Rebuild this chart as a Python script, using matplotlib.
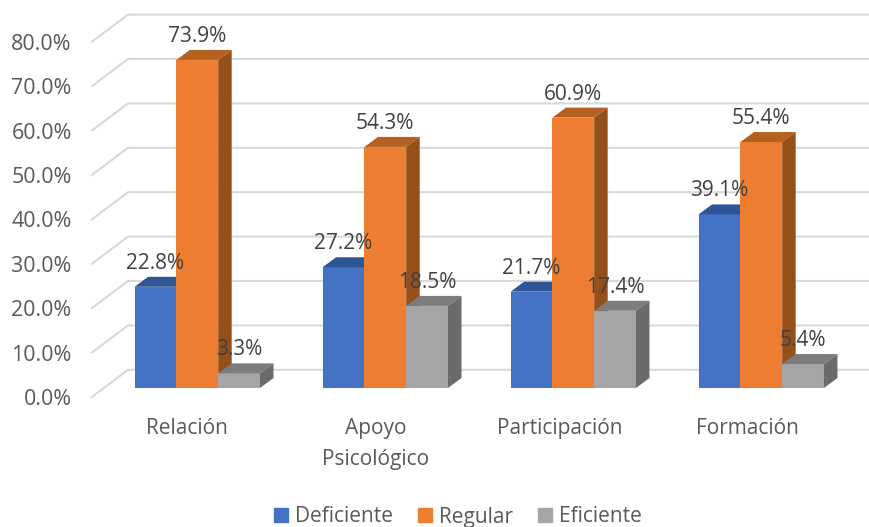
import matplotlib
matplotlib.use('Agg')
import matplotlib.pyplot as plt
from matplotlib.patches import Polygon, Patch

plt.rcParams['font.family'] = ['Open Sans', 'DejaVu Sans']

# datos
categorias = ['Relación', 'Apoyo\nPsicológico', 'Participación', 'Formación']
deficiente = [22.8, 27.2, 21.7, 39.1]
regular = [73.9, 54.3, 60.9, 55.4]
eficiente = [3.3, 18.5, 17.4, 5.4]
ticks = [0, 10, 20, 30, 40, 50, 60, 70, 80]

gris_texto = '#595959'
ancho = 0.2223
# profundidad de las barras (unidades de los ejes)
dx = 0.0718
dy = 2.25
# las etiquetas del eje no caen justo bajo el grupo
desv_cat = [-0.053, -0.053, -0.072, -0.072]

fig = plt.figure(figsize=(8.69, 5.27), dpi=100)
ax = fig.add_axes([0, 0, 1, 1])
ax.set_xlim(-1.0495, 3.573)
ax.set_ylim(-31.3, 87.39)
ax.axis('off')

# lineas de la cuadricula: diagonal de la pared y horizontal
for t in ticks:
    ax.plot([-0.5602, -0.3687, 3.6], [t - 2.0, t + 4.1, t + 4.1],
            color='#d9d9d9', lw=1.5, zorder=1, solid_joinstyle='round')
    ax.text(-0.668, t - 2.6, '%.1f%%' % t, ha='right', va='center',
            fontsize=15.4, color=gris_texto)


def barra3d(x, v, frente, arriba, lado, z):
    ax.bar(x, v, ancho, color=frente, zorder=z)
    i = x - ancho / 2
    d = x + ancho / 2
    ax.add_patch(Polygon([(i, v), (d, v), (d + dx, v + dy), (i + dx, v + dy)],
                         closed=True, fc=arriba, ec='none', zorder=z))
    ax.add_patch(Polygon([(d, 0), (d + dx, dy), (d + dx, v + dy), (d, v)],
                         closed=True, fc=lado, ec='none', zorder=z))


series = [
    (deficiente, -ancho, '#4472c4', '#2f5597', '#335593'),
    (regular, 0, '#ed7d31', '#b5601f', '#954f19'),
    (eficiente, ancho, '#a5a5a5', '#7c7c7c', '#6b6b6b'),
]

for c in range(len(categorias)):
    for n, (vals, off, frente, arriba, lado) in enumerate(series):
        barra3d(c + off, vals[c], frente, arriba, lado, 2 + c + n * 0.1)

# etiquetas de datos encima de todo
for c in range(len(categorias)):
    for vals, off, frente, arriba, lado in series:
        ax.annotate('%.1f%%' % vals[c], (c + off, vals[c]), xytext=(0, 17),
                    textcoords='offset points', ha='center', va='center',
                    fontsize=15, color='#404040', zorder=10)

for c, nombre in enumerate(categorias):
    ax.text(c + desv_cat[c], -6.75, nombre, ha='center', va='top', fontsize=15,
            color=gris_texto, linespacing=1.6)

handles = [Patch(color=s[2], label=l) for s, l in
           zip(series, ['Deficiente', 'Regular', 'Eficiente'])]
fig.legend(handles=handles, loc='center', bbox_to_anchor=(458 / 869, 1 - 517 / 527),
           ncol=3, frameon=False, fontsize=15, labelcolor=gris_texto,
           handlelength=0.65, handleheight=0.65, handletextpad=0.35, columnspacing=1.2)

fig.savefig('out.png', dpi=100)
